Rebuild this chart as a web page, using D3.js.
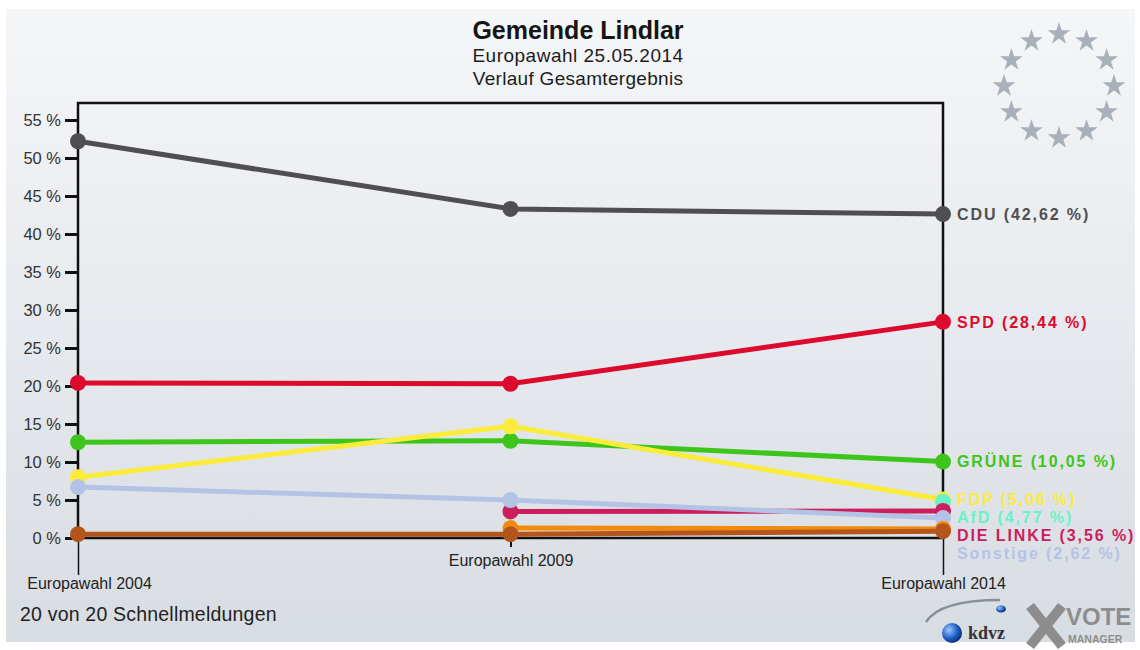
<!doctype html>
<html>
<head>
<meta charset="utf-8" />
<title>Gemeinde Lindlar - Verlauf Gesamtergebnis</title>
<script src="https://cdn.jsdelivr.net/npm/d3@7"></script>
<style>
  body { margin: 0; background: #fff; }
  svg { display: block; font-family: "Liberation Sans", Arial, sans-serif; }
</style>
</head>
<body>
<div id="chart"></div>
<script>
// data
var elections = ['Europawahl 2004', 'Europawahl 2009', 'Europawahl 2014'];
var parties = ['CDU', 'SPD', 'GRÜNE', 'FDP', 'AfD', 'DIE LINKE', 'Sonstige', 'Partei A', 'Partei B'];
var partyColors = ['#4f4f52', '#dc0a2c', '#3ec51c', '#fbec3a', '#6af2c6', '#cc1d5c', '#b3c3e6', '#f28a0c', '#b4561c'];
var results = [
  [52.2, 43.3, 42.62],
  [20.4, 20.3, 28.44],
  [12.6, 12.8, 10.05],
  [8.0, 14.7, 5.06],
  [null, null, 4.77],
  [null, 3.5, 3.56],
  [6.7, 5.0, 2.62],
  [null, 1.3, 1.2],
  [0.5, 0.5, 0.9]
];
var labelled = [true, true, true, true, true, true, true, false, false];
var yTicks = [0, 5, 10, 15, 20, 25, 30, 35, 40, 45, 50, 55];

var W = 1140, H = 650;
var svg = d3.select('#chart').append('svg')
    .attr('width', W)
    .attr('height', H);

var defs = svg.append('defs');
var bg = defs.append('linearGradient').attr('id', 'bg')
    .attr('x1', 0).attr('y1', 0).attr('x2', 0).attr('y2', 1);
bg.append('stop').attr('offset', '0%').attr('stop-color', '#f5f6f8');
bg.append('stop').attr('offset', '100%').attr('stop-color', '#d8dde3');
var ball = defs.append('radialGradient').attr('id', 'ball')
    .attr('cx', '35%').attr('cy', '35%').attr('r', '70%');
ball.append('stop').attr('offset', '0%').attr('stop-color', '#9cc8ff');
ball.append('stop').attr('offset', '60%').attr('stop-color', '#1f5fc8');
ball.append('stop').attr('offset', '100%').attr('stop-color', '#0a2a6a');

svg.append('rect')
    .attr('x', 6).attr('y', 9)
    .attr('width', 1129).attr('height', 633)
    .style('fill', 'url(#bg)');

// titles
svg.append('text').attr('x', 578).attr('y', 39).attr('text-anchor', 'middle')
    .style('font-size', '25px').style('font-weight', 'bold').style('fill', '#151515')
    .text('Gemeinde Lindlar');
svg.append('text').attr('x', 578).attr('y', 62).attr('text-anchor', 'middle')
    .style('font-size', '19px').style('letter-spacing', '0.5px').style('fill', '#1c1c1c')
    .text('Europawahl 25.05.2014');
svg.append('text').attr('x', 578).attr('y', 85).attr('text-anchor', 'middle')
    .style('font-size', '19px').style('letter-spacing', '0.3px').style('fill', '#1c1c1c')
    .text('Verlauf Gesamtergebnis');

// EU stars
var stars = svg.append('g').attr('transform', 'translate(1059,86)');
stars.selectAll('path')
    .data(d3.range(12))
    .enter().append('path')
    .attr('d', d3.symbol(d3.symbolStar).size(160))
    .attr('transform', function (d) {
        var a = d / 12 * 2 * Math.PI;
        return 'translate(' + (55 * Math.sin(a)) + ',' + (-52 * Math.cos(a)) + ')';
    })
    .style('fill', '#a9b0ba');

var x = d3.scalePoint().domain(elections).range([78, 943]);
var y = d3.scaleLinear().domain([0, 55]).range([538, 120]);

// plot frame
svg.append('rect')
    .attr('x', x(elections[0])).attr('y', 103)
    .attr('width', x(elections[2]) - x(elections[0]))
    .attr('height', y(0) - 103)
    .style('fill', 'none').style('stroke', '#111').style('stroke-width', 2.5);

// y axis
var yAxis = svg.append('g')
    .attr('transform', 'translate(' + x(elections[0]) + ',0)')
    .call(d3.axisLeft(y).tickValues(yTicks).tickSize(13).tickPadding(4)
        .tickFormat(function (d) { return d + ' %'; }));
yAxis.select('.domain').remove();
yAxis.selectAll('line').style('stroke', '#111').style('stroke-width', 3);
yAxis.selectAll('text').style('font-size', '16.5px').style('fill', '#333')
    .style('font-family', '"Liberation Sans", Arial, sans-serif');

// x axis
var xAxis = svg.append('g')
    .attr('transform', 'translate(0,' + y(0) + ')')
    .call(d3.axisBottom(x).tickSize(0).tickPadding(0));
xAxis.select('.domain').remove();
xAxis.selectAll('.tick line')
    .attr('y2', function (d, i) { return i === 1 ? 9 : 37; })
    .style('stroke', '#111').style('stroke-width', function (d, i) { return i === 1 ? 2 : 1.5; });
xAxis.selectAll('.tick text')
    .attr('dy', null)
    .attr('y', function (d, i) { return i === 1 ? 28 : 51; })
    .attr('x', function (d, i) { return i === 0 ? 11 : 0; })
    .style('font-size', '16px').style('fill', '#222')
    .style('font-family', '"Liberation Sans", Arial, sans-serif');

svg.append('text').attr('x', 20).attr('y', 621)
    .style('font-size', '19.5px').style('letter-spacing', '0.2px').style('fill', '#222')
    .text('20 von 20 Schnellmeldungen');

// series
var series = parties.map(function (p, i) {
    return {
        name: p, color: partyColors[i], labelled: labelled[i],
        values: results[i].map(function (v, j) { return { e: elections[j], v: v }; })
    };
});

var line = d3.line()
    .defined(function (d) { return d.v !== null; })
    .x(function (d) { return x(d.e); })
    .y(function (d) { return y(d.v); });

svg.append('g').selectAll('path')
    .data(series)
    .enter().append('path')
    .attr('d', function (d) { return line(d.values); })
    .style('fill', 'none')
    .style('stroke', function (d) { return d.color; })
    .style('stroke-width', 5);

var dots = svg.append('g');
series.forEach(function (s) {
    dots.selectAll(null)
        .data(s.values.filter(function (d) { return d.v !== null; }))
        .enter().append('circle')
        .attr('cx', function (d) { return x(d.e); })
        .attr('cy', function (d) { return y(d.v); })
        .attr('r', 8)
        .style('fill', s.color);
});

// end labels, pushed apart so they do not overlap
var fmt = function (v) { return v.toFixed(2).replace('.', ','); };
var lab = series.filter(function (s) { return s.labelled; })
    .map(function (s) { return { s: s, v: s.values[2].v, ly: y(s.values[2].v) }; })
    .sort(function (a, b) { return b.v - a.v; });
for (var i = 1; i < lab.length; i++) {
    if (lab[i].ly < lab[i - 1].ly + 18) lab[i].ly = lab[i - 1].ly + 18;
}
svg.append('g').selectAll('text')
    .data(lab)
    .enter().append('text')
    .attr('x', x(elections[2]) + 14)
    .attr('y', function (d) { return d.ly; })
    .attr('dy', '0.36em')
    .style('font-size', '16px')
    .style('font-weight', 'bold')
    .style('letter-spacing', '1.9px')
    .style('fill', function (d) { return d.s.color; })
    .text(function (d) { return d.s.name + ' (' + fmt(d.v) + ' %)'; });

// logos (kdvz / VOTE MANAGER)
var logo = svg.append('g');
logo.append('path').attr('d', 'M926,622 Q940,600 1000,600')
    .style('fill', 'none').style('stroke', '#8a8f96').style('stroke-width', 2.5);
logo.append('ellipse').attr('cx', 1001).attr('cy', 609).attr('rx', 5).attr('ry', 3.5)
    .style('fill', 'url(#ball)');
logo.append('circle').attr('cx', 952).attr('cy', 633).attr('r', 10)
    .style('fill', 'url(#ball)');
logo.append('text').attr('x', 968).attr('y', 639)
    .style('font-family', '"Liberation Serif", serif').style('font-weight', 'bold')
    .style('font-size', '18px').style('fill', '#333').text('kdvz');
logo.append('line').attr('x1', 1030).attr('y1', 606).attr('x2', 1062).attr('y2', 646)
    .style('stroke', '#8d8d8d').style('stroke-width', 10);
logo.append('line').attr('x1', 1062).attr('y1', 606).attr('x2', 1030).attr('y2', 646)
    .style('stroke', '#8d8d8d').style('stroke-width', 10);
logo.append('text').attr('x', 1066).attr('y', 625)
    .style('font-weight', 'bold').style('font-size', '24px').style('fill', '#8d8d8d')
    .text('VOTE');
logo.append('text').attr('x', 1068).attr('y', 643)
    .style('font-weight', 'bold').style('font-size', '10.5px').style('fill', '#8d8d8d')
    .text('MANAGER');
</script>
</body>
</html>
